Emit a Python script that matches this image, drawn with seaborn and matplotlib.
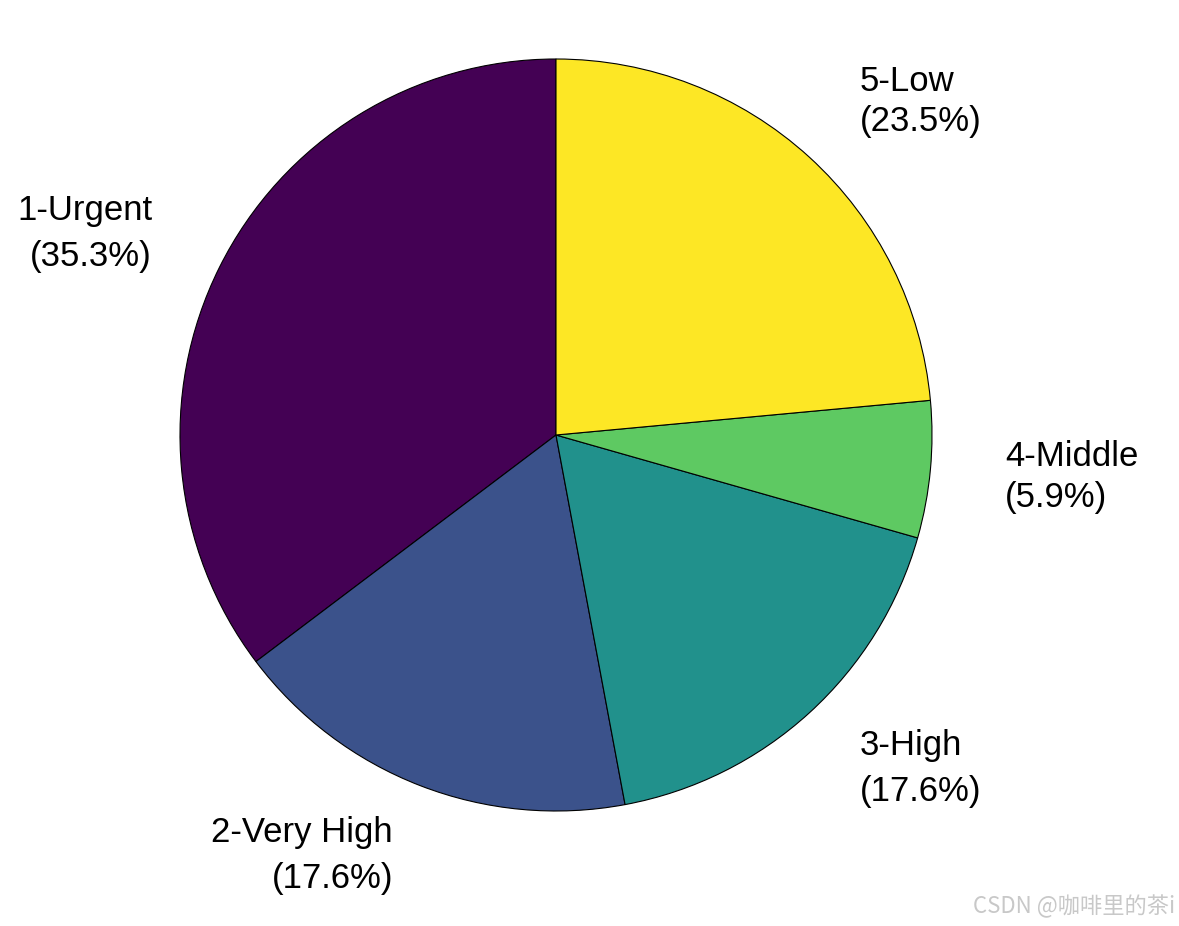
import numpy as np
import matplotlib
matplotlib.use('Agg')
import matplotlib.pyplot as plt
import seaborn as sns

# chart data
categories = ['1-Urgent', '2-Very High', '3-High', '4-Middle', '5-Low']
counts = [6, 3, 3, 1, 4]

sns.set_theme(style="white")
plt.rcParams['font.family'] = ['Liberation Sans', 'DejaVu Sans']

total = sum(counts)
labels = [f"{c}\n({v / total * 100:.1f}%)" for c, v in zip(categories, counts)]
colors = plt.cm.viridis(np.linspace(0, 1, len(counts)))

fig = plt.figure(figsize=(11.79, 9.26), dpi=100, facecolor='white')
ax = fig.add_axes([180 / 1179, 115 / 926, 752 / 1179, 752 / 926])

wedges, texts = ax.pie(counts, labels=labels, colors=colors, startangle=90,
                       labeldistance=1.2,
                       wedgeprops={'edgecolor': 'black', 'linewidth': 0.8},
                       textprops={'fontsize': 25, 'color': 'black'})
# labels whose first line has descenders sit a bit further apart
for t, c in zip(texts, categories):
    t.set_linespacing(1.5 if any(ch in c for ch in 'gy') else 1.3)

ax.set_xlim(-1, 1)
ax.set_ylim(-1, 1)
ax.set_aspect('equal')
ax.axis('off')

# watermark
fig.text(0.997, 0.021, 'CSDN @咖啡里的茶i', ha='right', va='center',
         fontsize=16, color='#c8c8c8',
         family=['Noto Sans CJK SC', 'DejaVu Sans'])

fig.savefig('out.png', dpi=100, facecolor='white')
